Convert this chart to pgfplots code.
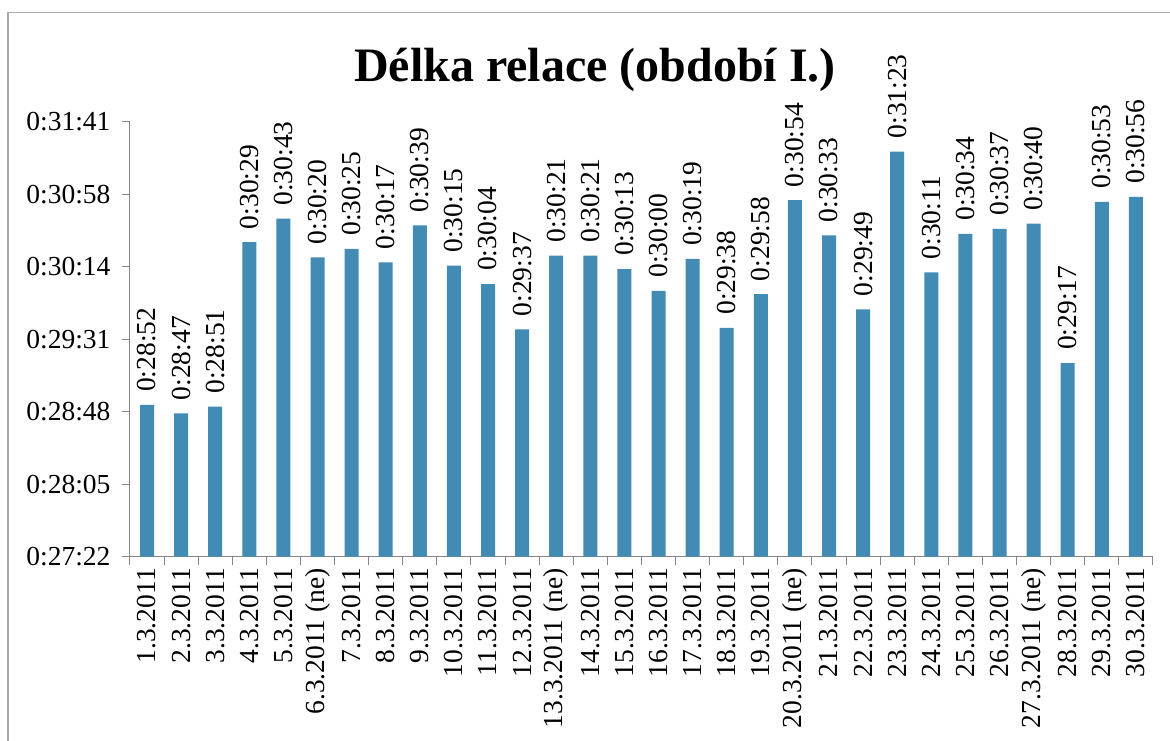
\documentclass[border=0pt]{standalone}
\usepackage{fontspec}
\setmainfont{Liberation Serif}
\usepackage{pgfplots}
\usepackage{pgfplotstable}
\pgfplotsset{compat=1.18}
\definecolor{barblue}{RGB}{65,139,180}
\definecolor{axgray}{RGB}{134,134,134}
\pgfplotstableread{
x y label
1 1732 0:28:52
2 1727 0:28:47
3 1731 0:28:51
4 1829 0:30:29
5 1843 0:30:43
6 1820 0:30:20
7 1825 0:30:25
8 1817 0:30:17
9 1839 0:30:39
10 1815 0:30:15
11 1804 0:30:04
12 1777 0:29:37
13 1821 0:30:21
14 1821 0:30:21
15 1813 0:30:13
16 1800 0:30:00
17 1819 0:30:19
18 1778 0:29:38
19 1798 0:29:58
20 1854 0:30:54
21 1833 0:30:33
22 1789 0:29:49
23 1883 0:31:23
24 1811 0:30:11
25 1834 0:30:34
26 1837 0:30:37
27 1840 0:30:40
28 1757 0:29:17
29 1853 0:30:53
30 1856 0:30:56
}\datatable
\begin{document}
\begin{tikzpicture}
\path[use as bounding box] (-130pt,-183.3pt) rectangle (1040pt,556.7pt);
\draw[axgray!70, line width=1.2pt] (-122pt,-200pt) -- (-122pt,544pt) -- (1060pt,544pt);
\begin{axis}[
  at={(0pt,0pt)}, anchor=south west,
  scale only axis, width=1023pt, height=435pt,
  xmin=0.5, xmax=30.5, ymin=1641.6, ymax=1900.8,
  axis x line*=bottom, axis y line*=left,
  axis line style={axgray, line width=1pt},
  tick align=outside,
  major tick length=8pt, minor tick length=8pt,
  tick style={axgray, line width=1pt},
  ytick={1641.6,1684.8,1728,1771.2,1814.4,1857.6,1900.8},
  yticklabels={0:27:22,0:28:05,0:28:48,0:29:31,0:30:14,0:30:58,0:31:41},
  yticklabel style={font=\fontsize{27.5}{32}\selectfont, xshift=-8pt},
  xtick={1,...,30},
  xticklabels={1.3.2011,2.3.2011,3.3.2011,4.3.2011,5.3.2011,6.3.2011 (ne),7.3.2011,8.3.2011,9.3.2011,10.3.2011,11.3.2011,12.3.2011,13.3.2011 (ne),14.3.2011,15.3.2011,16.3.2011,17.3.2011,18.3.2011,19.3.2011,20.3.2011 (ne),21.3.2011,22.3.2011,23.3.2011,24.3.2011,25.3.2011,26.3.2011,27.3.2011 (ne),28.3.2011,29.3.2011,30.3.2011},
  xticklabel style={font=\fontsize{27.5}{32}\selectfont, rotate=90, anchor=east, yshift=0pt},
  major x tick style={draw=none},
  minor xtick={0.5,1.5,...,30.5},
  ybar, bar width=14pt,
  point meta=explicit symbolic,
  nodes near coords,
  nodes near coords style={rotate=90, anchor=west, font=\fontsize{27.5}{32}\selectfont, inner sep=2pt, xshift=11pt},
  clip=false,
]
\addplot[fill=barblue, draw=none] table[x=x, y=y, meta=label] {\datatable};
\end{axis}
\node[font=\fontsize{48}{56}\bfseries] at (465pt,486.7pt) {Délka relace (období I.)};
\end{tikzpicture}
\end{document}
